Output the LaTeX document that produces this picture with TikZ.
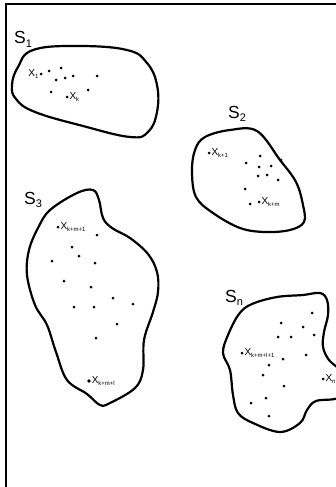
\documentclass[tikz,border=0pt]{standalone}
\usepackage{fontspec}
\setmainfont{Liberation Sans}
\newcommand\Slab[1]{\fontsize{17.5}{17.5}\selectfont S\raisebox{-0.18em}{\fontsize{11}{11}\selectfont #1}}
\newcommand\Xlab[1]{\fontsize{10}{10}\selectfont X\raisebox{-0.22em}{\fontsize{6}{6}\selectfont #1}}
\begin{document}
\begin{tikzpicture}[x=1pt,y=-1pt,
  dot/.style={circle,fill=black,inner sep=0pt,minimum size=3pt},
  blob/.style={line width=2.2pt},
  frame/.style={line width=1.3pt},
  xlab/.style={inner sep=0.6pt},
  slab/.style={inner sep=0pt,anchor=base west}]
\useasboundingbox (0,0) rectangle (336,487);
\clip (0,0) rectangle (336,487);
% frame
\coordinate (fb) at (6,490);
\coordinate (fc) at (6,4);
\coordinate (fr) at (340,4);
\draw[frame] (fb) -- (fc) -- (fr);

% S1
\node[slab] (s1) at (14,44) {\Slab{1}};
\draw[blob] plot[smooth cycle,tension=0.7] coordinates {(33,50) (77,46) (127,50) (147,63) (157,85) (157,112) (148,132) (130,137) (83,126) (35,112) (16,99) (12,85) (18,67)};
\node[dot] (a1) at (41,74) {};
\node[xlab,anchor=east] (la1) at (a1.west) {\Xlab{1}};
\foreach \p [count=\i] in {(49,71),(61,68),(56,80),(65,78),(73,76),(97,76),(88,90),(51,92)}
  \node[dot] (b\i) at \p {};
\node[dot] (ak) at (67,97) {};
\node[xlab,anchor=west] (lak) at (ak.east) {\Xlab{k}};

% S2
\node[slab] (s2) at (228,118) {\Slab{2}};
\draw[blob] plot[smooth cycle,tension=0.6] coordinates {(205,137) (230,130) (257,131) (280,160) (296,182) (303,205) (304,222) (290,230) (265,232) (240,228) (213,213) (196,197) (192,172) (195,150)};
\node[dot] (c1) at (209,153) {};
\node[xlab,anchor=west] (lc1) at (c1.east) {\Xlab{k+1}};
\foreach \p [count=\i] in {(260,156),(246,163),(259,167),(271,166),(281,160),(258,176),(267,175),(278,180),(245,189),(250,204)}
  \node[dot] (d\i) at \p {};
\node[dot] (c2) at (259,202) {};
\node[xlab,anchor=west] (lc2) at (c2.east) {\Xlab{k+m}};

% S3
\node[slab] (s3) at (24,204) {\Slab{3}};
\draw[blob] plot[smooth cycle,tension=0.6] coordinates {(50,210) (77,193) (93,190) (99,200) (103,218) (112,228) (130,238) (148,254) (157,272) (158,292) (153,312) (144,340) (143,370) (135,388) (110,403) (100,405) (87,394) (67,380) (56,352) (47,325) (35,305) (27,275) (29,250) (38,228)};
\node[dot] (e1) at (58,227) {};
\node[xlab,anchor=west] (le1) at (e1.east) {\Xlab{k+m+1}};
\foreach \p [count=\i] in {(97,235),(72,247),(79,256),(52,261),(95,263),(64,281),(91,287),(113,298),(133,304),(74,307),(94,307),(117,324),(96,338)}
  \node[dot] (f\i) at \p {};
\node[dot,minimum size=3.6pt] (e2) at (89,381) {};
\node[xlab,anchor=west] (le2) at (e2.east) {\Xlab{k+m+l}};

% Sn
\node[slab] (sn) at (225,302) {\Slab{n}};
\draw[blob] plot[smooth cycle,tension=0.6] coordinates {(252,304) (277,297) (303,295) (320,293) (327,300) (328,315) (324,332) (323,347) (329,360) (340,370) (350,385) (338,398) (316,401) (307,410) (300,423) (280,432) (253,423) (238,413) (233,395) (230,370) (223,353) (228,335) (239,314)};
\node[dot] (g1) at (242,353) {};
\node[xlab,anchor=west] (lg1) at (g1.east) {\Xlab{k+m+l+1}};
\foreach \p [count=\i] in {(312,313),(281,323),(303,327),(314,335),(278,337),(291,337),(283,359),(306,355),(269,365),(263,375),(284,386),(266,398),(251,403),(269,416)}
  \node[dot] (h\i) at \p {};
\node[dot] (g2) at (323,379) {};
\node[xlab,anchor=west] (lg2) at (g2.east) {\Xlab{n}};
\end{tikzpicture}
\end{document}
